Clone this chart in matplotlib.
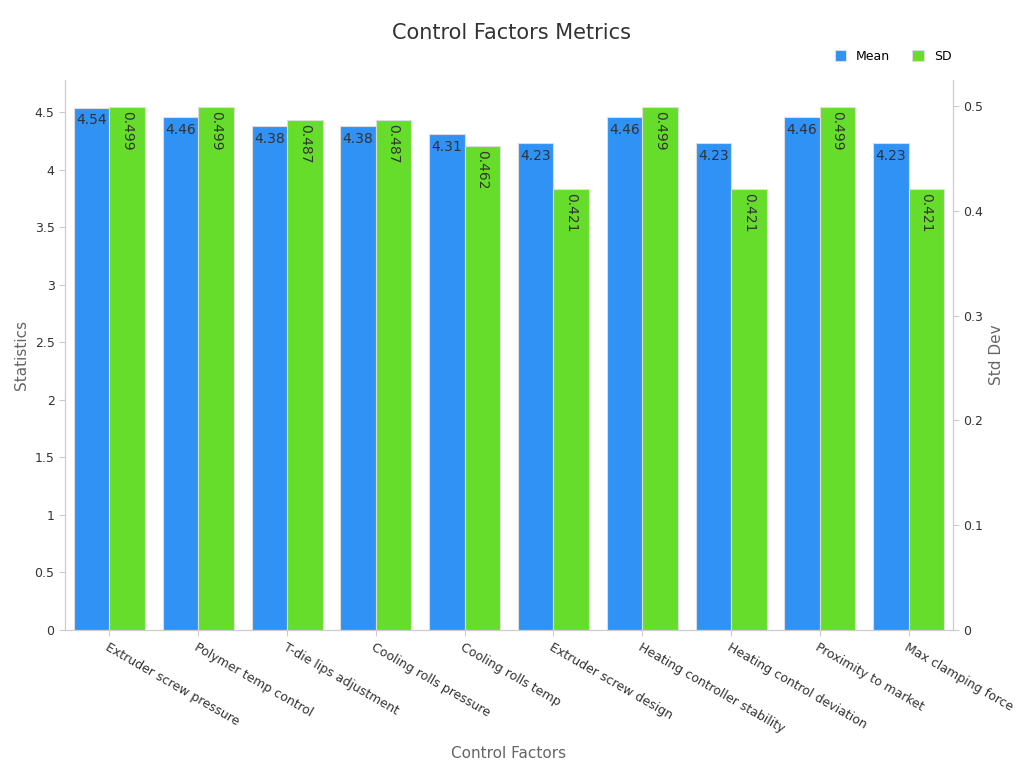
import matplotlib
matplotlib.use("Agg")
import matplotlib.pyplot as plt
import numpy as np

categories = ["Extruder screw pressure", "Polymer temp control", "T-die lips adjustment",
              "Cooling rolls pressure", "Cooling rolls temp", "Extruder screw design",
              "Heating controller stability", "Heating control deviation",
              "Proximity to market", "Max clamping force"]
means = [4.54, 4.46, 4.38, 4.38, 4.31, 4.23, 4.46, 4.23, 4.46, 4.23]
sds = [0.499, 0.499, 0.487, 0.487, 0.462, 0.421, 0.499, 0.421, 0.499, 0.421]

blue = "#3092F5"
green = "#66DD2A"

fig = plt.figure(figsize=(10.24, 7.68), dpi=100)
ax = fig.add_axes([0.0635, 0.1797, 0.8672, 0.7161])
ax2 = ax.twinx()
x = np.arange(len(categories))
w = 0.4
b1 = ax.bar(x - w/2, means, w, color=blue, edgecolor="#dddddd", linewidth=0.8, label="Mean")
b2 = ax2.bar(x + w/2, sds, w, color=green, edgecolor="#dddddd", linewidth=0.8, label="SD")
ax.set_xlim(-0.5, 9.5)
ax.set_ylim(0, 4.78)
ax2.set_ylim(0, 0.525)
ax.set_yticks(np.arange(0, 4.51, 0.5))
ax.set_yticklabels([f"{v:g}" for v in np.arange(0, 4.51, 0.5)])
ax2.set_yticks(np.arange(0, 0.51, 0.1))
ax2.set_yticklabels([f"{v:g}" for v in np.round(np.arange(0, 0.51, 0.1), 1)])
for r, v in zip(b1, means):
    ax.text(r.get_x() + r.get_width()/2, v - 0.05, f"{v:g}", ha="center", va="top", fontsize=10, color="#333333")
for r, v in zip(b2, sds):
    ax2.text(r.get_x() + r.get_width()/2, v - 0.004, f"{v:g}", ha="center", va="top", rotation=-90, fontsize=10, color="#333333")
ax.set_xticks(x)
ax.set_xticklabels(categories, rotation=-30, ha="left", rotation_mode="anchor", fontsize=10)
for a in (ax, ax2):
    a.spines["top"].set_visible(False)
    for s in ("left", "right", "bottom"):
        a.spines[s].set_color("#cccccc")
    a.tick_params(colors="#333333", labelsize=9, length=4)
    a.tick_params(axis="both", color="#cccccc")
ax.set_xlabel("Control Factors", color="#666666", fontsize=11, labelpad=8)
ax.set_ylabel("Statistics", color="#666666", fontsize=11)
ax2.set_ylabel("Std Dev", color="#666666", fontsize=11)
fig.suptitle("Control Factors Metrics", y=0.97, fontsize=15, color="#333333")
h = [b1, b2]
fig.legend(h, ["Mean", "SD"], loc="upper right", bbox_to_anchor=(0.94, 0.95), ncol=2,
           frameon=False, fontsize=9, handlelength=0.9, handleheight=0.9, columnspacing=1.8)
fig.savefig("out.png", dpi=100)
